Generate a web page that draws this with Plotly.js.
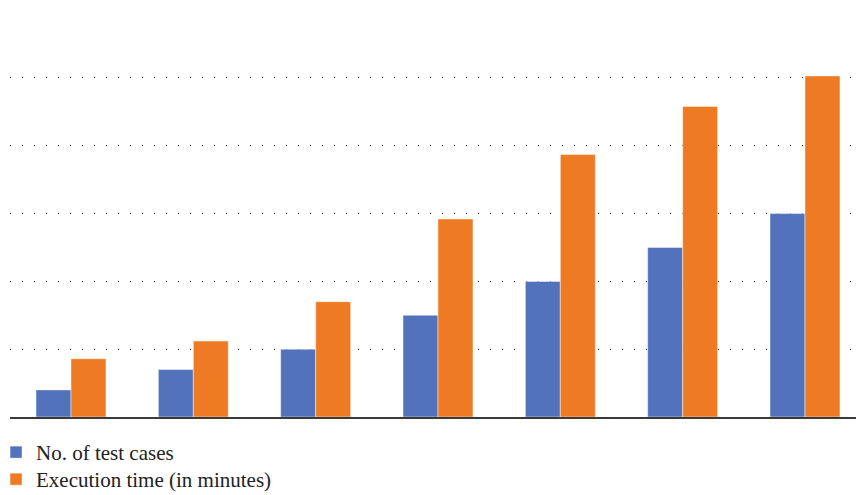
<!DOCTYPE html>
<html>
<head>
<meta charset="utf-8">
<script src="https://cdn.plot.ly/plotly-3.0.1.min.js"></script>
<style>html,body{margin:0;padding:0;background:#fff;}#chart{width:856px;height:495px;}</style>
</head>
<body>
<div id="chart"></div>
<script>
const categories = ["1", "2", "3", "4", "5", "6", "7"];
const testCases = [40, 70, 100, 150, 200, 250, 300];
const executionTime = [86, 112, 170, 292, 387, 458, 503];
const gridTicks = [100, 200, 300, 400, 500];

const traces = [
  {
    type: "bar", name: "No. of test cases", x: categories, y: testCases, legend: "legend",
    marker: {color: "#5273bc", line: {color: "rgba(255,255,255,0.45)", width: 1}}
  },
  {
    type: "bar", name: "Execution time (in minutes)", x: categories, y: executionTime, legend: "legend2",
    marker: {color: "#ee7b24", line: {color: "rgba(255,255,255,0.45)", width: 1}}
  }
];

const legendFont = {family: "Liberation Serif, serif", size: 21, color: "#222"};

const layout = {
  width: 856, height: 495,
  margin: {l: 10, r: 0, t: 40, b: 78, autoexpand: false},
  paper_bgcolor: "#ffffff", plot_bgcolor: "#ffffff",
  barmode: "group", bargap: 0.428, bargroupgap: 0,
  showlegend: true,
  legend: {
    x: -0.0165, xanchor: "left", y: -0.0397, yanchor: "top", orientation: "v",
    font: legendFont, bgcolor: "rgba(0,0,0,0)", itemclick: false
  },
  legend2: {
    x: -0.0165, xanchor: "left", y: -0.1114, yanchor: "top", orientation: "v",
    font: legendFont, bgcolor: "rgba(0,0,0,0)", itemclick: false
  },
  xaxis: {
    type: "category", range: [-0.4986, 6.417],
    showticklabels: false, ticks: "", showgrid: false, zeroline: false,
    showline: true, linecolor: "#3a3a3a", linewidth: 2, fixedrange: true
  },
  yaxis: {
    range: [0, 556], tickvals: gridTicks, showticklabels: false, ticks: "",
    showgrid: true, gridcolor: "#444444", gridwidth: 1, griddash: "1px,11px",
    zeroline: false, showline: false, fixedrange: true
  }
};

Plotly.newPlot("chart", traces, layout, {displayModeBar: false, staticPlot: true});
</script>
</body>
</html>
